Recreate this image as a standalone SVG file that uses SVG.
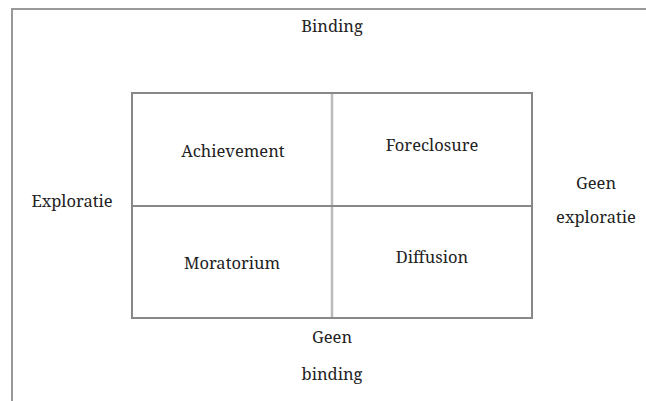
<svg xmlns="http://www.w3.org/2000/svg" width="646" height="401" viewBox="0 0 646 401">
<style>
text{font-family:'Noto Serif','DejaVu Serif',serif;font-size:16.5px;fill:#222;text-anchor:middle}
.frame{stroke:#999;stroke-width:2;fill:none}
.box{stroke:#888;stroke-width:2;fill:none}
.div{stroke:#bbb;stroke-width:2.5;fill:none}
</style>
<rect width="646" height="401" fill="#fff"/>
<g id="frame"><path class="frame" d="M12,401 V9 H646"/></g>
<g id="connectors">
<line class="div" x1="332" y1="93" x2="332" y2="318"/>
<line class="box" x1="132" y1="206" x2="532" y2="206"/>
</g>
<g id="grid"><rect class="box" x="132" y="93" width="400" height="225"/></g>
<g id="achievement"><text x="233" y="157">Achievement</text></g>
<g id="foreclosure"><text x="432" y="151">Foreclosure</text></g>
<g id="moratorium"><text x="232" y="269">Moratorium</text></g>
<g id="diffusion"><text x="432" y="263">Diffusion</text></g>
<g id="binding"><text x="332" y="32">Binding</text></g>
<g id="exploratie"><text x="72" y="207">Exploratie</text></g>
<g id="geen-exploratie"><text x="596" y="189">Geen</text><text x="596" y="223">exploratie</text></g>
<g id="geen-binding"><text x="332" y="343">Geen</text><text x="332" y="380">binding</text></g>
</svg>
